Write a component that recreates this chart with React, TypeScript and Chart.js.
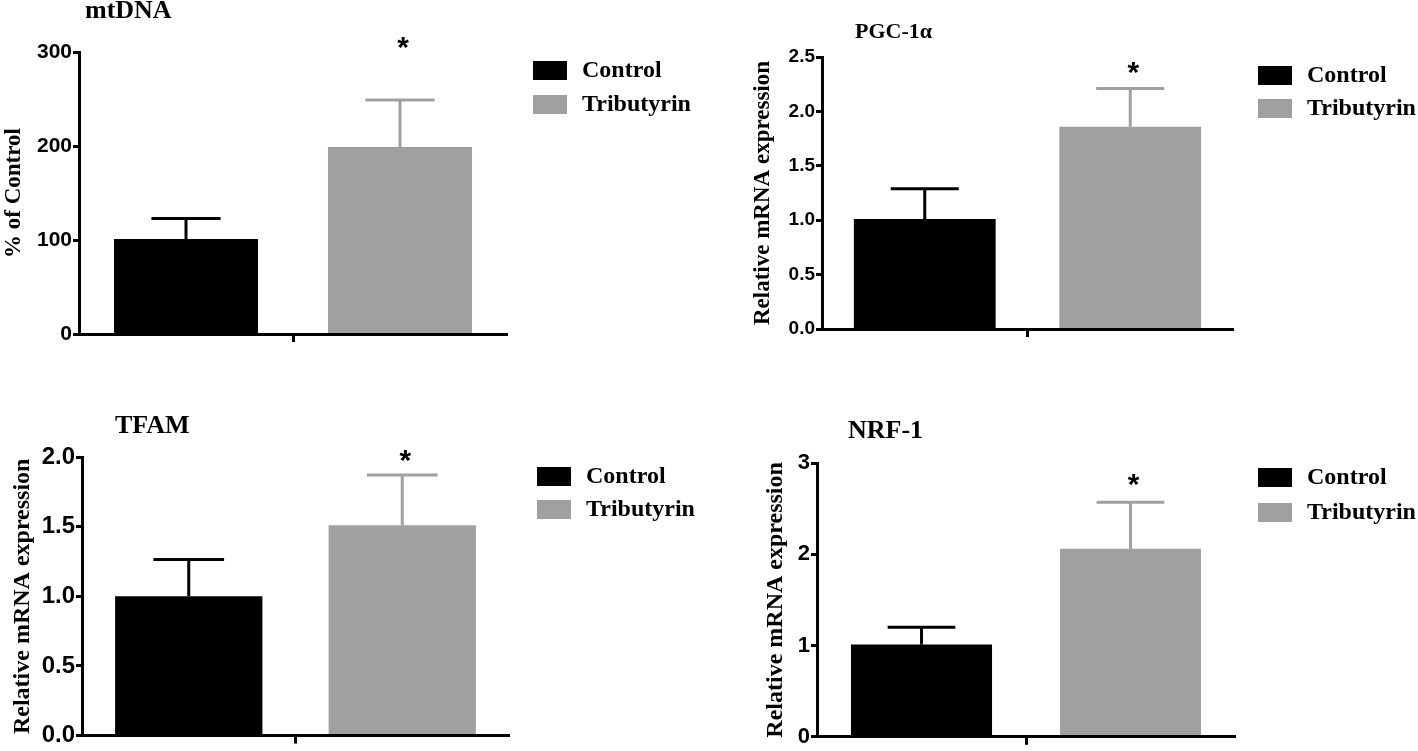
import React, { useEffect, useRef } from "react";
import { Chart, registerables } from "chart.js";

Chart.register(...registerables);

// ---------- data ----------
const groups = [""];
const seriesNames = ["Control", "Tributyrin"];
const seriesColors = ["#000000", "#a0a0a0"];

const mtdnaMeans = [101, 199];
const mtdnaErrors = [22, 50];
const mtdnaTickValues = [0, 100, 200, 300];
const mtdnaTickLabels = ["0", "100", "200", "300"];
const mtdnaStar = 310;

const pgcMeans = [1.01, 1.86];
const pgcErrors = [0.28, 0.35];
const pgcTickValues = [0, 0.5, 1, 1.5, 2, 2.5];
const pgcTickLabels = ["0.0", "0.5", "1.0", "1.5", "2.0", "2.5"];
const pgcStar = 2.4;

const tfamMeans = [1.0, 1.51];
const tfamErrors = [0.265, 0.36];
const tfamTickValues = [0, 0.5, 1, 1.5, 2];
const tfamTickLabels = ["0.0", "0.5", "1.0", "1.5", "2.0"];
const tfamStar = 2.01;

const nrfMeans = [1.01, 2.06];
const nrfErrors = [0.19, 0.51];
const nrfTickValues = [0, 1, 2, 3];
const nrfTickLabels = ["0", "1", "2", "3"];
const nrfStar = 2.81;

// ---------- layout ----------
type PanelCfg = {
  title: string;
  yTitle: string;
  means: number[];
  errors: number[];
  tickValues: number[];
  tickLabels: string[];
  star: number;
  left: number;
  top: number;
  width: number;
  height: number;
  area: { l: number; t: number; r: number; b: number };
  tickFont: number;
  yTitleFont: number;
  yTitlePad: number;
  barPct: number;
  titleX: number;
  titleY: number;
  titleFont: number;
  legendX: number;
  legendY: number;
  legendGap: number;
};

const panels: PanelCfg[] = [
  {
    title: "mtDNA", yTitle: "% of Control",
    means: mtdnaMeans, errors: mtdnaErrors, tickValues: mtdnaTickValues, tickLabels: mtdnaTickLabels, star: mtdnaStar,
    left: 0, top: 0, width: 709, height: 376,
    area: { l: 79, t: 52, r: 507, b: 334 },
    tickFont: 21, yTitleFont: 23, yTitlePad: 0, barPct: 0.673,
    titleX: 85, titleY: 18, titleFont: 26,
    legendX: 533, legendY: 61, legendGap: 34,
  },
  {
    title: "PGC-1α", yTitle: "Relative mRNA expression",
    means: pgcMeans, errors: pgcErrors, tickValues: pgcTickValues, tickLabels: pgcTickLabels, star: pgcStar,
    left: 709, top: 0, width: 709, height: 376,
    area: { l: 113, t: 57, r: 524, b: 329 },
    tickFont: 19, yTitleFont: 23, yTitlePad: 40, barPct: 0.69,
    titleX: 146, titleY: 38, titleFont: 22,
    legendX: 549, legendY: 66, legendGap: 33,
  },
  {
    title: "TFAM", yTitle: "Relative mRNA expression",
    means: tfamMeans, errors: tfamErrors, tickValues: tfamTickValues, tickLabels: tfamTickLabels, star: tfamStar,
    left: 0, top: 376, width: 709, height: 375,
    area: { l: 82, t: 81, r: 509, b: 364 },
    tickFont: 24, yTitleFont: 24, yTitlePad: 8, barPct: 0.69,
    titleX: 115, titleY: 57, titleFont: 26,
    legendX: 537, legendY: 91, legendGap: 33,
  },
  {
    title: "NRF-1", yTitle: "Relative mRNA expression",
    means: nrfMeans, errors: nrfErrors, tickValues: nrfTickValues, tickLabels: nrfTickLabels, star: nrfStar,
    left: 709, top: 376, width: 709, height: 375,
    area: { l: 108, t: 87, r: 526, b: 364 },
    tickFont: 22, yTitleFont: 24, yTitlePad: 52, barPct: 0.675,
    titleX: 139, titleY: 62, titleFont: 26,
    legendX: 549, legendY: 92, legendGap: 35,
  },
];

const decorPlugin = {
  id: "decor",
  afterDatasetsDraw(chart: any, _args: any, opts: any) {
    const ctx = chart.ctx;
    const y = chart.scales.y;
    chart.data.datasets.forEach((ds: any, i: number) => {
      const meta = chart.getDatasetMeta(i);
      meta.data.forEach((bar: any, j: number) => {
        const v = ds.data[j];
        const e = ds.errors[j];
        const top = y.getPixelForValue(v + e);
        const x = bar.x;
        const half = bar.width * 0.24;
        ctx.save();
        ctx.strokeStyle = ds.backgroundColor;
        ctx.lineWidth = 3;
        ctx.beginPath();
        ctx.moveTo(x, bar.y);
        ctx.lineTo(x, top);
        ctx.moveTo(x - half, top);
        ctx.lineTo(x + half, top);
        ctx.stroke();
        ctx.restore();
      });
    });
    // significance star above the treated bar
    const lastMeta = chart.getDatasetMeta(chart.data.datasets.length - 1);
    const sb = lastMeta.data[0];
    const sy = y.getPixelForValue(opts.star);
    ctx.save();
    ctx.font = "bold 30px 'Liberation Sans', Arial, sans-serif";
    ctx.fillStyle = "#000";
    ctx.textAlign = "center";
    ctx.textBaseline = "alphabetic";
    const m = ctx.measureText("*");
    const base = sy + (m.actualBoundingBoxAscent - m.actualBoundingBoxDescent) / 2;
    ctx.fillText("*", sb.x + 3, base);
    ctx.restore();
  },
  afterDraw(chart: any, _args: any, opts: any) {
    const ctx = chart.ctx;
    ctx.save();
    // panel title
    ctx.font = `bold ${opts.titleFont}px 'Liberation Serif', 'Times New Roman', serif`;
    ctx.fillStyle = "#000";
    ctx.textAlign = "left";
    ctx.textBaseline = "alphabetic";
    ctx.fillText(opts.title, opts.titleX, opts.titleY);
    // legend
    ctx.font = "bold 24px 'Liberation Serif', 'Times New Roman', serif";
    ctx.textBaseline = "middle";
    chart.data.datasets.forEach((ds: any, i: number) => {
      const by = opts.legendY + i * opts.legendGap;
      ctx.fillStyle = ds.backgroundColor;
      ctx.fillRect(opts.legendX, by, 34, 19);
      ctx.fillStyle = "#000";
      ctx.fillText(ds.label, opts.legendX + 49, by + 10);
    });
    ctx.restore();
  },
};

function Panel({ cfg }: { cfg: PanelCfg }) {
  const ref = useRef<HTMLCanvasElement>(null);
  useEffect(() => {
    const canvas = ref.current;
    if (!canvas) return;
    const maxV = cfg.tickValues[cfg.tickValues.length - 1];
    const chart = new Chart(canvas, {
      type: "bar",
      data: {
        labels: groups,
        datasets: seriesNames.map((name, i) => ({
          label: name,
          data: [cfg.means[i]],
          errors: [cfg.errors[i]],
          backgroundColor: seriesColors[i],
          borderWidth: 0,
          barPercentage: cfg.barPct,
          categoryPercentage: 1,
        })) as any,
      },
      options: {
        responsive: false,
        maintainAspectRatio: false,
        animation: false,
        layout: {
          padding: { left: 0, top: cfg.area.t, right: cfg.width - cfg.area.r, bottom: 0 },
        },
        plugins: {
          legend: { display: false },
          tooltip: { enabled: false },
          title: { display: false },
          decor: {
            star: cfg.star,
            title: cfg.title,
            titleX: cfg.titleX,
            titleY: cfg.titleY,
            titleFont: cfg.titleFont,
            legendX: cfg.legendX,
            legendY: cfg.legendY,
            legendGap: cfg.legendGap,
          },
        } as any,
        scales: {
          x: {
            type: "category",
            offset: true,
            grid: {
              display: true,
              drawOnChartArea: false,
              drawTicks: true,
              tickLength: 8,
              tickWidth: 3,
              tickColor: "#000",
              offset: false,
            },
            border: { display: true, color: "#000", width: 3, z: 1 },
            ticks: { display: true, color: "#000" },
            afterFit: (s: any) => {
              s.height = cfg.height - cfg.area.b;
            },
          },
          y: {
            min: 0,
            max: maxV,
            afterBuildTicks: (s: any) => {
              s.ticks = cfg.tickValues.map((v) => ({ value: v }));
            },
            ticks: {
              callback: (_v: any, i: number) => cfg.tickLabels[i],
              font: { family: "'Liberation Sans', Arial, sans-serif", weight: "bold", size: cfg.tickFont },
              color: "#000",
              padding: 1,
            },
            grid: {
              display: true,
              drawOnChartArea: false,
              drawTicks: true,
              tickLength: 6,
              tickWidth: 3,
              tickColor: "#000",
            },
            border: { display: true, color: "#000", width: 3, z: 1 },
            title: {
              display: true,
              text: cfg.yTitle,
              color: "#000",
              font: { family: "'Liberation Serif', 'Times New Roman', serif", weight: "bold", size: cfg.yTitleFont },
              padding: { top: cfg.yTitlePad, bottom: 0 },
            },
            afterFit: (s: any) => {
              s.width = cfg.area.l;
            },
          },
        } as any,
      },
      plugins: [decorPlugin as any],
    });
    return () => chart.destroy();
  }, [cfg]);
  return (
    <canvas
      ref={ref}
      width={cfg.width}
      height={cfg.height}
      style={{ position: "absolute", left: cfg.left, top: cfg.top, width: cfg.width, height: cfg.height }}
    />
  );
}

export default function App() {
  return (
    <div style={{ position: "fixed", left: 0, top: 0, width: 1418, height: 751, background: "#fff", overflow: "hidden" }}>
      {panels.map((p, i) => (
        <Panel key={i} cfg={p} />
      ))}
    </div>
  );
}
